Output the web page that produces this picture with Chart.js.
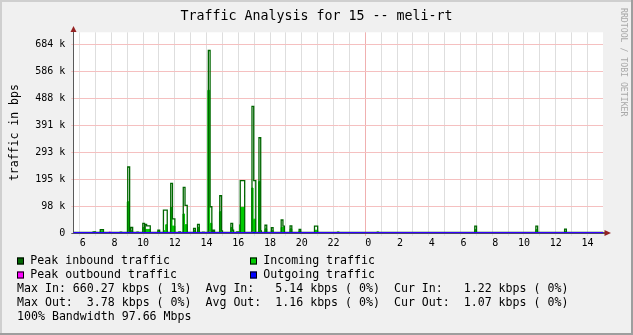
<!DOCTYPE html>
<html><head><meta charset="utf-8">
<script src="https://cdn.jsdelivr.net/npm/chart.js@4"></script>
<style>html,body{margin:0;padding:0;background:#f0f0f0;overflow:hidden}canvas{display:block}</style>
</head><body>
<canvas id="c" width="633" height="335"></canvas>
<script>
// ---------- text ----------
const titleText = 'Traffic Analysis for 15 -- meli-rt';
const yAxisTitle = 'traffic in bps';
const watermark = 'RRDTOOL / TOBI OETIKER';
const seriesNames = ['Peak inbound traffic', 'Incoming traffic', 'Peak outbound traffic', 'Outgoing traffic'];
const statLines = [
  'Max In: 660.27 kbps ( 1%)  Avg In:   5.14 kbps ( 0%)  Cur In:   1.22 kbps ( 0%)',
  'Max Out:  3.78 kbps ( 0%)  Avg Out:  1.16 kbps ( 0%)  Cur Out:  1.07 kbps ( 0%)',
  '100% Bandwidth 97.66 Mbps'
];

// ---------- axes (hours; >24 = next day; values in k) ----------
const xMin = 5.6, xMax = 38.98;
const yMax = 727;
const yTickStep = 97.65625;

// ---------- series (step starts: time in hours, value in kbps) ----------
const peakInT = [5.6, 6.85, 7.0, 7.3, 7.5, 8.55, 8.65, 9.03, 9.15, 9.23, 9.34, 9.6, 9.7,
  9.98, 10.09, 10.13, 10.22, 10.45, 10.93, 11.04, 11.28, 11.52, 11.74, 11.85, 12.0,
  12.25, 12.35, 12.53, 12.64, 12.78, 13.18, 13.29, 13.43, 13.54, 13.75, 13.85,
  14.11, 14.22, 14.33, 14.41, 14.5, 14.83, 14.94, 15.0, 15.53, 15.64, 15.7, 15.9, 16.0,
  16.12, 16.4, 16.86, 16.97, 17.1, 17.3, 17.41, 17.45, 17.68, 17.79, 18.08, 18.19,
  18.7, 18.81, 18.9, 19.26, 19.37, 19.83, 19.93, 20.8, 21.0, 22.25, 22.33,
  24.75, 24.83, 30.9, 31.01, 34.75, 34.86, 36.56, 36.67, 38.98];
const peakInV = [1.8, 4, 1.8, 12, 1.8, 3, 1.8, 239, 1.8, 20, 1.8, 3, 1.8,
  35, 1.8, 31, 26, 1.8, 10, 1.8, 83, 1.8, 180, 51, 1.8,
  4, 1.8, 165, 100, 1.8, 17, 1.8, 31, 1.8, 3, 1.8,
  661, 95, 1.8, 10, 1.8, 135, 8, 1.8, 35, 10, 1.8, 4, 1.8,
  190, 1.8, 459, 190, 1.8, 345, 8, 1.8, 28, 1.8, 19, 1.8,
  47, 25, 1.8, 26, 1.8, 13, 1.8, 25, 1.8, 3, 1.8,
  3, 1.8, 25, 1.8, 25, 1.8, 14, 1.8, 1.8];

const inT = [5.6, 6.9, 7.0, 7.3, 7.5, 8.55, 8.65, 9.0, 9.11, 9.23, 9.34, 9.6, 9.7,
  9.98, 10.09, 10.15, 10.45, 10.93, 11.04, 11.3, 11.42, 11.5, 11.72, 11.82, 12.0,
  12.51, 12.61, 12.78, 13.18, 13.29, 13.43, 13.54, 14.08, 14.19, 14.33, 14.41, 14.5,
  14.81, 14.92, 15.53, 15.64, 16.08, 16.14, 16.38, 16.84, 16.93, 17.08, 17.28, 17.39,
  17.68, 17.79, 18.08, 18.19, 18.7, 18.9, 19.26, 19.37, 19.83, 19.93, 20.8, 21.0,
  22.25, 22.33, 24.75, 24.83, 30.9, 31.01, 34.75, 34.86, 36.56, 36.67, 38.98];
const inV = [1.2, 3, 1.2, 8, 1.2, 2.5, 1.2, 113, 1.2, 8, 1.2, 2.5, 1.2,
  20, 1.2, 13, 1.2, 6, 1.2, 8, 30, 1.2, 92, 25, 1.2,
  69, 30, 1.2, 10, 1.2, 20, 1.2, 517, 35, 1.2, 6, 1.2,
  77, 1.2, 20, 1.2, 30, 93, 1.2, 163, 50, 1.2, 186, 1.2,
  15, 1.2, 10, 1.2, 20, 1.2, 15, 1.2, 8, 1.2, 10, 1.2,
  3, 1.2, 3, 1.2, 12, 1.2, 12, 1.2, 6, 1.2, 1.2];

const peakOutT = [5.6, 7.85, 7.95, 9.05, 9.15, 14.13, 14.25, 16.88, 17.0, 24.0, 38.98];
const peakOutV = [1.8, 3.78, 1.8, 2.5, 1.8, 3.2, 1.8, 3.0, 1.8, 1.6, 1.6];

const outT = [5.6, 9.05, 9.15, 14.13, 14.25, 16.9, 17.1, 24.0, 38.98];
const outV = [1.2, 1.6, 1.1, 2.2, 1.1, 1.8, 1.1, 1.0, 1.07];

const pts = (t, v) => t.map((x, i) => ({x, y: v[i]}));

const FONT = 'DejaVu Sans Mono';
const legendColors = ['#006600', '#00cc00', '#ff00ff', '#0000ff'];

const deco = {
  id: 'deco',
  beforeDraw(chart) {
    const c = chart.ctx, a = chart.chartArea, W = chart.width, H = chart.height;
    c.save();
    c.fillStyle = '#f0f0f0'; c.fillRect(0, 0, W, H);
    c.fillStyle = '#cfcfcf'; c.fillRect(0, 0, W, 2); c.fillRect(0, 0, 2, H);
    c.fillStyle = '#9e9e9e'; c.fillRect(0, H - 2, W, 2); c.fillRect(W - 2, 0, 2, H);
    c.fillStyle = '#ffffff'; c.fillRect(a.left, a.top, a.right - a.left, a.bottom - a.top);
    c.restore();
  },
  afterDatasetsDraw(chart) {
    const c = chart.ctx, a = chart.chartArea;
    c.save();
    c.strokeStyle = '#4a4a6a'; c.lineWidth = 1;
    c.beginPath(); c.moveTo(a.left, 233.5); c.lineTo(606, 233.5); c.stroke();
    c.restore();
  },
  afterDraw(chart) {
    const c = chart.ctx, a = chart.chartArea;
    c.save();
    // arrows
    c.fillStyle = '#942222'; c.strokeStyle = '#5a5a5a'; c.lineWidth = 1;
    c.beginPath(); c.moveTo(73.5, a.top); c.lineTo(73.5, 30); c.stroke();
    c.beginPath(); c.moveTo(73.5, 26); c.lineTo(70.5, 32); c.lineTo(76.5, 32); c.closePath(); c.fill();
    c.beginPath(); c.moveTo(a.right, 232.5); c.lineTo(606, 232.5); c.stroke();
    c.beginPath(); c.moveTo(611, 233); c.lineTo(604.5, 230); c.lineTo(604.5, 236); c.closePath(); c.fill();
    // title
    c.fillStyle = '#000'; c.textBaseline = 'middle'; c.textAlign = 'center';
    c.font = `13.3px "${FONT}"`;
    c.fillText(titleText, 316.5, 16.5);
    // legend
    c.textAlign = 'left';
    c.font = `11.6px "${FONT}"`;
    const pos = [[17, 261], [250, 261], [17, 275], [250, 275]];
    seriesNames.forEach((n, i) => {
      const [x, y] = pos[i];
      c.fillStyle = legendColors[i]; c.fillRect(x, y - 3.5, 7, 7);
      c.strokeStyle = '#000'; c.lineWidth = 1; c.strokeRect(x + 0.5, y - 3, 6, 6);
      c.fillStyle = '#000'; c.fillText(n, x + 13.3, y);
    });
    const sy = [289, 303.3, 317];
    statLines.forEach((s, i) => c.fillText(s, 17, sy[i]));
    // watermark
    c.fillStyle = '#a8a8a8'; c.font = `8.2px "${FONT}"`;
    c.translate(623.5, 8); c.rotate(Math.PI / 2);
    c.fillText(watermark, 0, 0);
    c.restore();
  }
};

new Chart(document.getElementById('c'), {
  type: 'line',
  data: {
    datasets: [
      {label: seriesNames[0], data: pts(peakInT, peakInV), borderColor: '#006600', borderWidth: 1.3,
       fill: false, stepped: true, pointRadius: 0, order: 2},
      {label: seriesNames[1], data: pts(inT, inV), borderColor: '#00cc00', backgroundColor: '#00cc00',
       borderWidth: 1, fill: 'origin', stepped: true, pointRadius: 0, order: 3},
      {label: seriesNames[2], data: pts(peakOutT, peakOutV), borderColor: '#ff00ff', borderWidth: 1,
       fill: false, stepped: true, pointRadius: 0, order: 1},
      {label: seriesNames[3], data: pts(outT, outV), borderColor: '#0000ff', borderWidth: 1,
       fill: false, stepped: true, pointRadius: 0, order: 0}
    ]
  },
  options: {
    responsive: false, animation: false, devicePixelRatio: 1,
    layout: {padding: {left: 0, top: 32.3, right: 30, bottom: 82}},
    plugins: {legend: {display: false}, tooltip: {enabled: false}, title: {display: false}},
    scales: {
      x: {
        type: 'linear', min: xMin, max: xMax,
        afterFit: s => { s.height = 20; },
        border: {display: true, color: '#5a5a5a', width: 1},
        grid: {
          color: ctx => ctx.tick && ctx.tick.value === 24 ? '#f0b0b0' : '#dedede',
          tickLength: 3, drawTicks: true
        },
        ticks: {
          stepSize: 1, includeBounds: false, autoSkip: false, maxRotation: 0, maxTicksLimit: 100,
          padding: 1.5, color: '#000', font: {family: FONT, size: 10},
          callback: v => { if (v % 2 !== 0) return ''; const h = v % 24; return (h < 10 ? ' ' : '') + h; }
        }
      },
      y: {
        type: 'linear', min: 0, max: yMax,
        afterFit: s => { s.width = 73.3; },
        border: {display: true, color: '#5a5a5a', width: 1},
        grid: {
          color: ctx => ctx.tick && ctx.tick.value === 0 ? '#5a5a5a' : '#f5c0c0',
          tickLength: 2
        },
        ticks: {
          stepSize: yTickStep, includeBounds: false, maxTicksLimit: 100, padding: 6,
          color: '#000', font: {family: FONT, size: 10},
          callback: v => v === 0 ? '0' : Math.round(v) + ' k'
        },
        title: {display: true, text: yAxisTitle, color: '#000', font: {family: FONT, size: 11.5},
                padding: {top: 8, bottom: 0}}
      }
    }
  },
  plugins: [deco]
});
</script>
</body></html>
